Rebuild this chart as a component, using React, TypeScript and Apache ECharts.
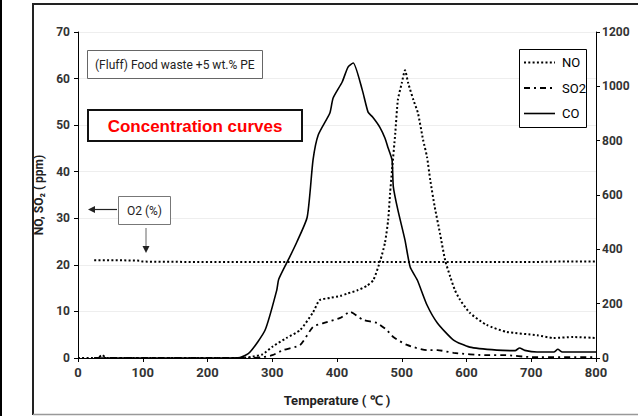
import React, { useEffect, useRef } from "react";
import * as echarts from "echarts";

// ---- data ----
const xTicks = [0, 100, 200, 300, 400, 500, 600, 700, 800];

const noTemp = [0, 30, 37, 45, 100, 200, 250, 270, 285, 301, 322, 343, 363, 373, 389, 405, 415, 431, 446, 456, 467, 474, 479, 482, 485, 490, 494, 500, 505, 510, 518, 525, 533, 539, 544, 551, 559, 567, 575, 582, 590, 605, 631, 662, 709, 734, 765, 800];
const noVal = [0, 0, 0.6, 0, 0, 0, 0, 0.3, 0.8, 2.5, 4.3, 6, 9.8, 12.4, 12.9, 13.3, 13.8, 14.5, 15.5, 16.7, 21, 24.7, 29.6, 35.4, 40.4, 48.3, 55.4, 59, 61.8, 59, 55.4, 52.6, 46.8, 43.2, 38.2, 32.4, 26.8, 21, 17.4, 14.6, 12.5, 9.7, 7.1, 5.6, 4.9, 4.3, 4.5, 4.3];

const so2Temp = [25, 250, 270, 286, 300, 317, 343, 363, 379, 405, 420, 440, 462, 477, 487, 508, 539, 555, 580, 631, 660, 700, 800];
const so2Val = [0, 0, 0, 0.2, 0.6, 1.7, 2.8, 6.7, 7.5, 8.6, 9.9, 8.2, 7.5, 6, 4.5, 2.8, 1.7, 1.7, 1.1, 0.6, 0.6, 0.2, 0.2];

const coTemp = [25, 200, 250, 265, 289, 307, 310, 327, 338, 354, 363, 371, 389, 394, 408, 417, 425, 439, 448, 455, 466, 474, 479, 485, 487, 494, 505, 513, 524, 539, 555, 580, 605, 647, 675, 682, 690, 709, 735, 741, 748, 765, 800];
const coVal = [0, 0, 2, 20, 103, 250, 290, 372, 427, 519, 729, 821, 902, 957, 1016, 1071, 1086, 987, 905, 887, 850, 810, 773, 729, 630, 545, 434, 335, 287, 195, 129, 66, 40, 29, 27, 37, 28, 22, 22, 32, 22, 22, 22];

const o2Temp = [25, 60, 95, 100, 200, 300, 400, 500, 600, 700, 740, 800];
const o2Val = [21, 21, 20.9, 20.7, 20.6, 20.6, 20.6, 20.6, 20.6, 20.6, 20.7, 20.7];

const legendNames = ["NO", "SO2", "CO"];

const pairs = (t: number[], v: number[]) => t.map((x, i) => [x, v[i]]);

const FONT = "Roboto, 'Liberation Sans', sans-serif";
const DOT = [2, 2.3];
const DASHDOT = [6, 4, 2, 4];

export default function App() {
  const ref = useRef<HTMLDivElement>(null);
  useEffect(() => {
    if (!ref.current) return;
    const chart = echarts.init(ref.current, undefined, { renderer: "svg" });
    const tickLabel = { fontFamily: FONT, fontSize: 12, fontWeight: "bold" as const, color: "#333" };
    const legendStyles = [
      { dash: DOT, width: 2 },
      { dash: DASHDOT, width: 1.8 },
      { dash: null, width: 1.6 },
    ];
    const legendGraphics: any[] = [
      {
        type: "rect",
        shape: { x: 519.5, y: 49.5, width: 67, height: 78 },
        style: { fill: "#fff", stroke: "#000", lineWidth: 1 },
        z: 10,
      },
    ];
    legendNames.forEach((n, i) => {
      const y = 62.5 + i * 25.5;
      const s = legendStyles[i];
      legendGraphics.push({
        type: "line",
        shape: { x1: 524, y1: y, x2: 555, y2: y },
        style: { stroke: "#000", lineWidth: s.width, lineDash: s.dash || undefined },
        z: 11,
      });
      legendGraphics.push({
        type: "text",
        x: 562,
        y: y,
        style: { text: n, font: `13px ${FONT}`, fill: "#000", verticalAlign: "middle", align: "left" },
        z: 11,
      });
    });
    chart.setOption({
      animation: false,
      backgroundColor: "#fff",
      grid: { left: 78, right: 42, top: 32, bottom: 58, containLabel: false, outerBoundsMode: "none" },
      xAxis: {
        type: "value",
        min: 0,
        max: 800,
        interval: 100,
        name: "Temperature ( ℃ )",
        nameLocation: "middle",
        nameGap: 36,
        nameTextStyle: { fontFamily: FONT, fontSize: 13, fontWeight: "bold", color: "#222" },
        axisLine: { lineStyle: { color: "#000", width: 1 } },
        axisTick: { show: true, length: 4, lineStyle: { color: "#000" } },
        axisLabel: { ...tickLabel, fontSize: 13, margin: 8, formatter: (v: number) => (xTicks.includes(v) ? String(v) : "") },
        splitLine: { show: false },
      },
      yAxis: [
        {
          type: "value",
          min: 0,
          max: 70,
          interval: 10,
          name: "NO, SO₂ ( ppm)",
          nameLocation: "middle",
          nameGap: 32,
          nameTextStyle: { fontFamily: FONT, fontSize: 12, fontWeight: "bold", color: "#222" },
          axisLine: { show: true, lineStyle: { color: "#000", width: 1 } },
          axisTick: { show: true, length: 4, lineStyle: { color: "#000" } },
          axisLabel: { ...tickLabel, margin: 8 },
          splitLine: { show: true, lineStyle: { color: "#eeeeee", width: 1 } },
        },
        {
          type: "value",
          min: 0,
          max: 1200,
          interval: 200,
          position: "right",
          name: "CO (ppm)",
          nameLocation: "middle",
          nameRotate: 90,
          nameGap: 46,
          nameTextStyle: { fontFamily: FONT, fontSize: 12, fontWeight: "bold", color: "#222" },
          axisLine: { show: true, lineStyle: { color: "#000", width: 1 } },
          axisTick: { show: true, length: 4, lineStyle: { color: "#000" } },
          axisLabel: { ...tickLabel, margin: 6, formatter: (v: number) => String(v) },
          splitLine: { show: false },
        },
      ],
      series: [
        {
          name: "O2",
          type: "line",
          yAxisIndex: 0,
          symbol: "none",
          data: pairs(o2Temp, o2Val),
          lineStyle: { color: "#000", width: 2, type: DOT },
          z: 2,
        },
        {
          name: "NO",
          type: "line",
          yAxisIndex: 0,
          symbol: "none",
          smooth: 0.2,
          data: pairs(noTemp, noVal),
          lineStyle: { color: "#000", width: 2, type: DOT },
          z: 3,
        },
        {
          name: "SO2",
          type: "line",
          yAxisIndex: 0,
          symbol: "none",
          smooth: 0.2,
          data: pairs(so2Temp, so2Val),
          lineStyle: { color: "#000", width: 1.8, type: DASHDOT },
          z: 3,
        },
        {
          name: "CO",
          type: "line",
          yAxisIndex: 1,
          symbol: "none",
          smooth: 0.2,
          data: pairs(coTemp, coVal),
          lineStyle: { color: "#000", width: 1.6, type: "solid" },
          z: 4,
        },
      ],
      graphic: [
        // outer frame
        { type: "line", shape: { x1: 1, y1: 0, x2: 1, y2: 416 }, style: { stroke: "#000", lineWidth: 2 } },
        { type: "line", shape: { x1: 33, y1: 3, x2: 33, y2: 415 }, style: { stroke: "#222", lineWidth: 2 } },
        { type: "line", shape: { x1: 32, y1: 4, x2: 640, y2: 4 }, style: { stroke: "#222", lineWidth: 2 } },
        { type: "line", shape: { x1: 33, y1: 414.5, x2: 640, y2: 414.5 }, style: { stroke: "#999", lineWidth: 1.5 } },
        // title box
        {
          type: "rect",
          shape: { x: 87.5, y: 50.5, width: 175, height: 28 },
          style: { fill: "#fff", stroke: "#666", lineWidth: 1 },
          z: 10,
        },
        {
          type: "text",
          x: 95,
          y: 64.5,
          style: { text: "(Fluff) Food waste +5 wt.% PE", font: `12px ${FONT}`, fill: "#222", verticalAlign: "middle", align: "left" },
          z: 11,
        },
        // concentration curves box
        {
          type: "rect",
          shape: { x: 88, y: 110, width: 214, height: 31 },
          style: { fill: "#fff", stroke: "#111", lineWidth: 2 },
          z: 10,
        },
        {
          type: "text",
          x: 195,
          y: 126.5,
          style: { text: "Concentration curves", font: `bold 17px Arial, 'Liberation Sans', sans-serif`, fill: "#ff0000", verticalAlign: "middle", align: "center" },
          z: 11,
        },
        // O2 box and arrows
        {
          type: "rect",
          shape: { x: 118.5, y: 196.5, width: 52, height: 28 },
          style: { fill: "#fff", stroke: "#777", lineWidth: 1 },
          z: 10,
        },
        {
          type: "text",
          x: 144.5,
          y: 210.5,
          style: { text: "O2 (%)", font: `12px ${FONT}`, fill: "#222", verticalAlign: "middle", align: "center" },
          z: 11,
        },
        { type: "line", shape: { x1: 94, y1: 209.5, x2: 117, y2: 209.5 }, style: { stroke: "#222", lineWidth: 1.2 }, z: 10 },
        { type: "polygon", shape: { points: [[88, 209.5], [95, 206], [95, 213]] }, style: { fill: "#222" }, z: 10 },
        { type: "line", shape: { x1: 146, y1: 228, x2: 146, y2: 247 }, style: { stroke: "#666", lineWidth: 1 }, z: 10 },
        { type: "polygon", shape: { points: [[146, 253], [142.5, 246], [149.5, 246]] }, style: { fill: "#222" }, z: 10 },
        ...legendGraphics,
      ],
    });
    return () => chart.dispose();
  }, []);
  return <div ref={ref} style={{ position: "fixed", left: 0, top: 0, width: 638, height: 416 }} />;
}
